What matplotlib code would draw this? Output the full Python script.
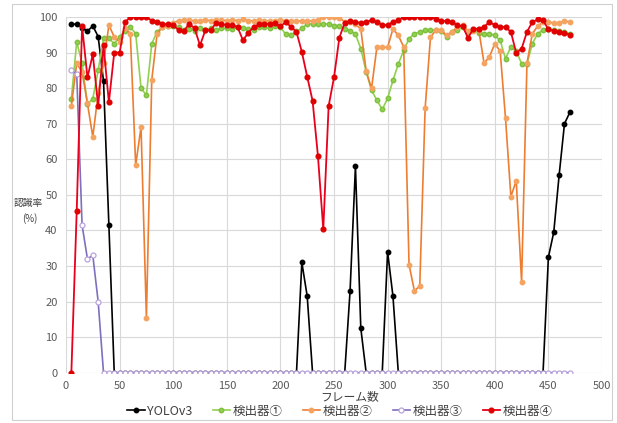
import matplotlib
matplotlib.use("Agg")
import matplotlib.pyplot as plt
from matplotlib.patches import Rectangle

plt.rcParams['font.family'] = ['Noto Sans CJK JP', 'DejaVu Sans']

frames = list(range(5, 471, 5))

yolo = [98, 98, 97, 96, 97.5, 94.5, 82, 41.5, 0, 0,
        0, 0, 0, 0, 0, 0, 0, 0, 0, 0,
        0, 0, 0, 0, 0, 0, 0, 0, 0, 0,
        0, 0, 0, 0, 0, 0, 0, 0, 0, 0,
        0, 0, 0, 31, 21.5, 0, 0, 0, 0, 0,
        0, 0, 23, 58, 12.5, 0, 0, 0, 0, 34,
        21.5, 0, 0, 0, 0, 0, 0, 0, 0, 0,
        0, 0, 0, 0, 0, 0, 0, 0, 0, 0,
        0, 0, 0, 0, 0, 0, 0, 0, 0, 32.5,
        39.5, 55.5, 70, 73.2]

det1 = [77, 93, 87, 75.5, 77, 85, 94, 94, 92.5, 94.5,
        96, 97.2, 95.3, 80, 78, 92.5, 95.8, 97.2, 97.4, 97.6,
        97.2, 96.3, 96.5, 96.2, 96.8, 96.3, 96.8, 96.3, 96.8, 96.8,
        96.5, 97.2, 96.8, 96.7, 96.3, 97.2, 97.2, 96.8, 97.4, 97.2,
        95.1, 94.9, 96, 96.8, 98, 98.1, 98, 98, 98.1, 97.6,
        97.6, 96.7, 96.2, 95.2, 91.1, 84.6, 79.4, 76.6, 74, 77.1,
        82.2, 86.8, 90.6, 93.9, 95.3, 95.8, 96.3, 96.4, 96.3, 96.1,
        94.4, 95.8, 96.3, 97.2, 95.8, 96.3, 95.5, 95.3, 95.3, 94.8,
        93.4, 88.3, 91.6, 90.4, 86.9, 86.9, 92.5, 95.3, 96.4, 96.7,
        96.3, 96.1, 95.8, 95.3]

det2 = [75, 87, 84.5, 75.7, 66.3, 78.5, 87, 97.7, 94.4, 93,
        97, 95.3, 58.3, 69.1, 15.5, 82.3, 95.3, 97.2, 97.6, 98.3,
        99, 99.1, 99.1, 98.9, 99, 99.1, 99, 99.1, 99.1, 99,
        99.1, 99, 99.3, 99, 98.9, 99.1, 99, 98.9, 99, 99.1,
        99, 98.8, 98.9, 98.9, 99, 98.9, 99.2, 100, 100, 100,
        99.7, 98.7, 98.6, 97.9, 96.7, 84.8, 79.9, 91.5, 91.5, 91.5,
        96.7, 94.8, 91.6, 30.4, 23, 24.4, 74.3, 94.3, 96.3, 96.4,
        94.8, 95.8, 97.2, 97.7, 96, 96, 96.4, 87, 88.8, 92.5,
        90.4, 71.5, 49.5, 54, 25.5, 87, 95.3, 97.4, 98.6, 98.6,
        98.3, 98.3, 98.9, 98.6]

det3 = [85, 84, 41.5, 32, 33, 20] + [0] * 88

det4 = [0, 45.5, 97.5, 83, 89.5, 75, 92, 76, 90, 90,
        98.5, 100, 100, 100, 100, 99, 98.7, 98.1, 97.9, 97.7,
        96.3, 96.1, 98.1, 96.8, 92, 96.3, 96.3, 98.3, 98.1, 97.7,
        97.7, 97.2, 93.5, 95.5, 97.2, 97.9, 98.1, 98.1, 98.3, 97.4,
        98.6, 97.2, 95.8, 90.2, 83.2, 76.5, 61, 40.3, 75, 83,
        94.2, 98.4, 98.8, 98.6, 98.3, 98.6, 99.1, 98.6, 97.8, 97.7,
        98.6, 99.1, 100, 100, 100, 100, 100, 100, 99.5, 98.9,
        98.9, 98.6, 97.7, 97.4, 94.1, 96.7, 96.7, 97.2, 98.6, 97.7,
        97.2, 97.2, 95.8, 89.9, 91.1, 95.8, 98.6, 99.3, 99.1, 96.5,
        96.1, 95.7, 95.4, 95.0]

labels = ['YOLOv3', '検出器①', '検出器②', '検出器③', '検出器④']

fig = plt.figure(figsize=(6.17, 4.23), dpi=100)
ax = fig.add_axes([66 / 617, 1 - 372.7 / 423, (602 - 66) / 617, (372.7 - 17) / 423])

ax.plot(frames, yolo, color='black', lw=1.2, marker='o', ms=3.2, mfc='black', mec='black', label=labels[0])
ax.plot(frames, det1, color='#92d050', lw=1.2, marker='o', ms=3.2, mfc='#92d050', mec='#7fbf3f', label=labels[1])
ax.plot(frames, det2, color='#ed7d31', lw=1.2, marker='o', ms=3.2, mfc='#f4a460', mec='#f4a460', label=labels[2])
ax.plot(frames, det3, color='#7f6fbf', lw=1.2, marker='o', ms=3.6, mfc='white', mec='#b9a3dc', mew=0.9, label=labels[3])
ax.plot(frames, det4, color='#e8001c', lw=1.3, marker='o', ms=3.4, mfc='#e00000', mec='#e00000', label=labels[4])

ax.set_xlim(0, 500)
ax.set_ylim(0, 100)
ax.set_xticks(range(0, 501, 50))
ax.set_yticks(range(0, 101, 10))
ax.grid(True, color='#d9d9d9', lw=0.8)
ax.set_axisbelow(True)
for s in ax.spines.values():
    s.set_visible(False)
ax.tick_params(length=0, labelsize=8, colors='#595959', pad=6)

fig.text(28 / 617, 1 - 203 / 423, '認識率', fontsize=7, color='#404040', ha='center', va='center')
fig.text(30 / 617, 1 - 219 / 423, '(%)', fontsize=7, color='#404040', ha='center', va='center')
fig.text(350 / 617, 1 - 397 / 423, 'フレーム数', fontsize=8.5, color='#404040', ha='center', va='center')

leg = fig.legend(loc='center', bbox_to_anchor=(340 / 617, 1 - 411 / 423), ncol=5, frameon=False,
                 fontsize=9, handlelength=1.4, handletextpad=0.2, columnspacing=1.6, borderpad=0)
for t in leg.get_texts():
    t.set_color('#404040')

fig.patches.append(Rectangle((12 / 617, 1 - 420 / 423), (612 - 12) / 617, (420 - 4) / 423,
                             transform=fig.transFigure, fill=False, edgecolor='#d0d0d0', lw=0.8))

fig.savefig('out.png', dpi=100)
